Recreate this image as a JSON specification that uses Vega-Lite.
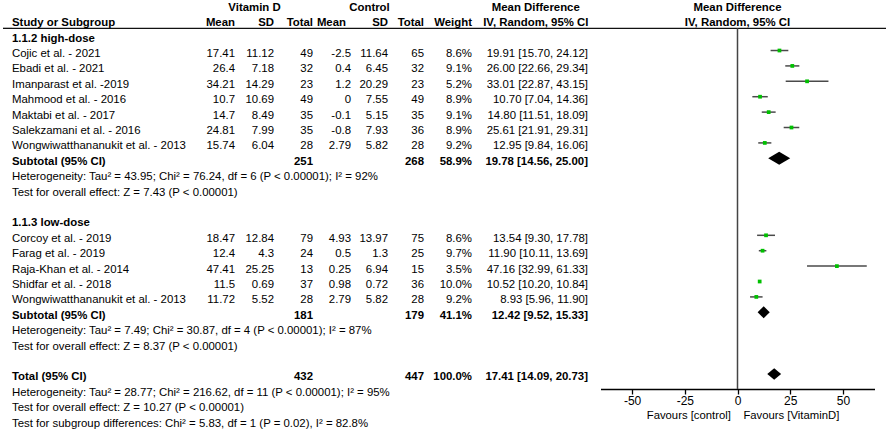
{
  "$schema": "https://vega.github.io/schema/vega-lite/v6.json",
  "padding": {"left": 2, "right": 0, "top": 0, "bottom": 0},
  "spacing": 0,
  "bounds": "flush",
  "config": {
    "view": {"stroke": null},
    "font": "Liberation Sans",
    "text": {"fontSize": 11.4, "color": "#000", "baseline": "middle", "dy": 3.5}
  },
  "data": {"values": [
    {"r": 0, "k": "h0", "s1": "Vitamin D", "s2": "Control", "ci": "Mean Difference", "pl": "Mean Difference"},
    {"r": 1, "k": "h1", "study": "Study or Subgroup", "m1": "Mean", "s1": "SD", "n1": "Total", "m2": "Mean", "s2": "SD", "n2": "Total", "w": "Weight", "ci": "IV, Random, 95% CI", "pl": "IV, Random, 95% CI"},
    {"r": 2, "k": "grp", "study": "1.1.2 high-dose"},
    {"r": 3, "k": "st", "study": "Cojic et al. - 2021", "m1": "17.41", "s1": "11.12", "n1": "49", "m2": "-2.5", "s2": "11.64", "n2": "65", "w": "8.6%", "ci": "19.91 [15.70, 24.12]", "est": 19.91, "lo": 15.70, "hi": 24.12},
    {"r": 4, "k": "st", "study": "Ebadi et al. - 2021", "m1": "26.4", "s1": "7.18", "n1": "32", "m2": "0.4", "s2": "6.45", "n2": "32", "w": "9.1%", "ci": "26.00 [22.66, 29.34]", "est": 26.00, "lo": 22.66, "hi": 29.34},
    {"r": 5, "k": "st", "study": "Imanparast et al. -2019", "m1": "34.21", "s1": "14.29", "n1": "23", "m2": "1.2", "s2": "20.29", "n2": "23", "w": "5.2%", "ci": "33.01 [22.87, 43.15]", "est": 33.01, "lo": 22.87, "hi": 43.15},
    {"r": 6, "k": "st", "study": "Mahmood et al.  - 2016", "m1": "10.7", "s1": "10.69", "n1": "49", "m2": "0", "s2": "7.55", "n2": "49", "w": "8.9%", "ci": "10.70 [7.04, 14.36]", "est": 10.70, "lo": 7.04, "hi": 14.36},
    {"r": 7, "k": "st", "study": "Maktabi et al. - 2017", "m1": "14.7", "s1": "8.49", "n1": "35", "m2": "-0.1", "s2": "5.15", "n2": "35", "w": "9.1%", "ci": "14.80 [11.51, 18.09]", "est": 14.80, "lo": 11.51, "hi": 18.09},
    {"r": 8, "k": "st", "study": "Salekzamani et al. - 2016", "m1": "24.81", "s1": "7.99", "n1": "35", "m2": "-0.8", "s2": "7.93", "n2": "36", "w": "8.9%", "ci": "25.61 [21.91, 29.31]", "est": 25.61, "lo": 21.91, "hi": 29.31},
    {"r": 9, "k": "st", "study": "Wongwiwatthananukit et al. - 2013", "m1": "15.74", "s1": "6.04", "n1": "28", "m2": "2.79", "s2": "5.82", "n2": "28", "w": "9.2%", "ci": "12.95 [9.84, 16.06]", "est": 12.95, "lo": 9.84, "hi": 16.06},
    {"r": 10, "k": "sub", "study": "Subtotal (95% CI)", "n1": "251", "n2": "268", "w": "58.9%", "ci": "19.78 [14.56, 25.00]", "est": 19.78, "lo": 14.56, "hi": 25.00},
    {"r": 11, "k": "note", "study": "Heterogeneity: Tau² = 43.95; Chi² = 76.24, df = 6 (P < 0.00001); I² = 92%"},
    {"r": 12, "k": "note", "study": "Test for overall effect: Z = 7.43 (P < 0.00001)"},
    {"r": 14, "k": "grp", "study": "1.1.3 low-dose"},
    {"r": 15, "k": "st", "study": "Corcoy et al. - 2019", "m1": "18.47", "s1": "12.84", "n1": "79", "m2": "4.93", "s2": "13.97", "n2": "75", "w": "8.6%", "ci": "13.54 [9.30, 17.78]", "est": 13.54, "lo": 9.30, "hi": 17.78},
    {"r": 16, "k": "st", "study": "Farag et al. - 2019", "m1": "12.4", "s1": "4.3", "n1": "24", "m2": "0.5", "s2": "1.3", "n2": "25", "w": "9.7%", "ci": "11.90 [10.11, 13.69]", "est": 11.90, "lo": 10.11, "hi": 13.69},
    {"r": 17, "k": "st", "study": "Raja-Khan et al. - 2014", "m1": "47.41", "s1": "25.25", "n1": "13", "m2": "0.25", "s2": "6.94", "n2": "15", "w": "3.5%", "ci": "47.16 [32.99, 61.33]", "est": 47.16, "lo": 32.99, "hi": 61.33},
    {"r": 18, "k": "st", "study": "Shidfar et al. - 2018", "m1": "11.5", "s1": "0.69", "n1": "37", "m2": "0.98", "s2": "0.72", "n2": "36", "w": "10.0%", "ci": "10.52 [10.20, 10.84]", "est": 10.52, "lo": 10.20, "hi": 10.84},
    {"r": 19, "k": "st", "study": "Wongwiwatthananukit et al. - 2013", "m1": "11.72", "s1": "5.52", "n1": "28", "m2": "2.79", "s2": "5.82", "n2": "28", "w": "9.2%", "ci": "8.93 [5.96, 11.90]", "est": 8.93, "lo": 5.96, "hi": 11.90},
    {"r": 20, "k": "sub", "study": "Subtotal (95% CI)", "n1": "181", "n2": "179", "w": "41.1%", "ci": "12.42 [9.52, 15.33]", "est": 12.42, "lo": 9.52, "hi": 15.33},
    {"r": 21, "k": "note", "study": "Heterogeneity: Tau² = 7.49; Chi² = 30.87, df = 4 (P < 0.00001); I² = 87%"},
    {"r": 22, "k": "note", "study": "Test for overall effect: Z = 8.37 (P < 0.00001)"},
    {"r": 24, "k": "tot", "study": "Total (95% CI)", "n1": "432", "n2": "447", "w": "100.0%", "ci": "17.41 [14.09, 20.73]", "est": 17.41, "lo": 14.09, "hi": 20.73},
    {"r": 25, "k": "note", "study": "Heterogeneity: Tau² = 28.77; Chi² = 216.62, df = 11 (P < 0.00001); I² = 95%"},
    {"r": 26, "k": "note", "study": "Test for overall effect: Z = 10.27 (P < 0.00001)"},
    {"r": 27, "k": "note", "study": "Test for subgroup differences: Chi² = 5.83, df = 1 (P = 0.02), I² = 82.8%"}
  ]},
  "hconcat": [
    {
      "width": 9, "height": 389,
      "layer": [
        {"transform": [{"filter": "datum.r == 1"}], "mark": {"type": "rule", "color": "#111", "strokeWidth": 1.3}, "encoding": {"y": {"datum": 1.56, "type": "quantitative", "scale": {"domain": [-0.28, 24.98], "reverse": true, "nice": false, "zero": false}, "axis": null}}}
      ]
    },
    {
      "width": 183, "height": 389,
      "layer": [
        {"transform": [{"filter": "datum.r == 1"}], "mark": {"type": "rule", "color": "#111", "strokeWidth": 1.3}, "encoding": {"y": {"datum": 1.56, "type": "quantitative", "scale": {"domain": [-0.28, 24.98], "reverse": true, "nice": false, "zero": false}, "axis": null}}},
        {"transform": [{"filter": "(datum.k == 'st' || datum.k == 'note') && isValid(datum.study)"}], "mark": {"type": "text", "align": "left"},
         "encoding": {"x": {"datum": 0, "type": "quantitative", "scale": {"domain": [0, 1]}, "axis": null}, "y": {"field": "r", "type": "quantitative", "scale": {"domain": [-0.28, 24.98], "reverse": true, "nice": false, "zero": false}, "axis": null}, "text": {"field": "study"}}},
        {"transform": [{"filter": "datum.k != 'st' && datum.k != 'note' && isValid(datum.study)"}], "mark": {"type": "text", "align": "left", "fontWeight": "bold"},
         "encoding": {"x": {"datum": 0, "type": "quantitative", "scale": {"domain": [0, 1]}, "axis": null}, "y": {"field": "r", "type": "quantitative", "scale": {"domain": [-0.28, 24.98], "reverse": true, "nice": false, "zero": false}, "axis": null}, "text": {"field": "study"}}}
      ]
    },
    {
      "width": 40, "height": 389,
      "layer": [
        {"transform": [{"filter": "datum.r == 1"}], "mark": {"type": "rule", "color": "#111", "strokeWidth": 1.3}, "encoding": {"y": {"datum": 1.56, "type": "quantitative", "scale": {"domain": [-0.28, 24.98], "reverse": true, "nice": false, "zero": false}, "axis": null}}},
        {"transform": [{"filter": "datum.k == 'st' && isValid(datum.m1)"}], "mark": {"type": "text", "align": "right"},
         "encoding": {"x": {"datum": 1, "type": "quantitative", "scale": {"domain": [0, 1]}, "axis": null}, "y": {"field": "r", "type": "quantitative", "scale": {"domain": [-0.28, 24.98], "reverse": true, "nice": false, "zero": false}, "axis": null}, "text": {"field": "m1"}}},
        {"transform": [{"filter": "datum.k != 'st' && datum.k != 'h0' && isValid(datum.m1)"}], "mark": {"type": "text", "align": "right", "fontWeight": "bold"},
         "encoding": {"x": {"datum": 1, "type": "quantitative", "scale": {"domain": [0, 1]}, "axis": null}, "y": {"field": "r", "type": "quantitative", "scale": {"domain": [-0.28, 24.98], "reverse": true, "nice": false, "zero": false}, "axis": null}, "text": {"field": "m1"}}}
      ]
    },
    {
      "width": 39, "height": 389,
      "layer": [
        {"transform": [{"filter": "datum.r == 1"}], "mark": {"type": "rule", "color": "#111", "strokeWidth": 1.3}, "encoding": {"y": {"datum": 1.56, "type": "quantitative", "scale": {"domain": [-0.28, 24.98], "reverse": true, "nice": false, "zero": false}, "axis": null}}},
        {"transform": [{"filter": "datum.k == 'st' && isValid(datum.s1)"}], "mark": {"type": "text", "align": "right"},
         "encoding": {"x": {"datum": 1, "type": "quantitative", "scale": {"domain": [0, 1]}, "axis": null}, "y": {"field": "r", "type": "quantitative", "scale": {"domain": [-0.28, 24.98], "reverse": true, "nice": false, "zero": false}, "axis": null}, "text": {"field": "s1"}}},
        {"transform": [{"filter": "datum.k != 'st' && datum.k != 'h0' && isValid(datum.s1)"}], "mark": {"type": "text", "align": "right", "fontWeight": "bold"},
         "encoding": {"x": {"datum": 1, "type": "quantitative", "scale": {"domain": [0, 1]}, "axis": null}, "y": {"field": "r", "type": "quantitative", "scale": {"domain": [-0.28, 24.98], "reverse": true, "nice": false, "zero": false}, "axis": null}, "text": {"field": "s1"}}},
        {"transform": [{"filter": "datum.k == 'h0' && isValid(datum.s1)"}], "mark": {"type": "text", "align": "center", "fontWeight": "bold"},
         "encoding": {"x": {"datum": 0.5, "type": "quantitative", "scale": {"domain": [0, 1]}, "axis": null}, "y": {"field": "r", "type": "quantitative", "scale": {"domain": [-0.28, 24.98], "reverse": true, "nice": false, "zero": false}, "axis": null}, "text": {"field": "s1"}}}
      ]
    },
    {
      "width": 39, "height": 389,
      "layer": [
        {"transform": [{"filter": "datum.r == 1"}], "mark": {"type": "rule", "color": "#111", "strokeWidth": 1.3}, "encoding": {"y": {"datum": 1.56, "type": "quantitative", "scale": {"domain": [-0.28, 24.98], "reverse": true, "nice": false, "zero": false}, "axis": null}}},
        {"transform": [{"filter": "datum.k == 'st' && isValid(datum.n1)"}], "mark": {"type": "text", "align": "right"},
         "encoding": {"x": {"datum": 1, "type": "quantitative", "scale": {"domain": [0, 1]}, "axis": null}, "y": {"field": "r", "type": "quantitative", "scale": {"domain": [-0.28, 24.98], "reverse": true, "nice": false, "zero": false}, "axis": null}, "text": {"field": "n1"}}},
        {"transform": [{"filter": "datum.k != 'st' && datum.k != 'h0' && isValid(datum.n1)"}], "mark": {"type": "text", "align": "right", "fontWeight": "bold"},
         "encoding": {"x": {"datum": 1, "type": "quantitative", "scale": {"domain": [0, 1]}, "axis": null}, "y": {"field": "r", "type": "quantitative", "scale": {"domain": [-0.28, 24.98], "reverse": true, "nice": false, "zero": false}, "axis": null}, "text": {"field": "n1"}}}
      ]
    },
    {
      "width": 38, "height": 389,
      "layer": [
        {"transform": [{"filter": "datum.r == 1"}], "mark": {"type": "rule", "color": "#111", "strokeWidth": 1.3}, "encoding": {"y": {"datum": 1.56, "type": "quantitative", "scale": {"domain": [-0.28, 24.98], "reverse": true, "nice": false, "zero": false}, "axis": null}}},
        {"transform": [{"filter": "datum.k == 'st' && isValid(datum.m2)"}], "mark": {"type": "text", "align": "right"},
         "encoding": {"x": {"datum": 1, "type": "quantitative", "scale": {"domain": [0, 1]}, "axis": null}, "y": {"field": "r", "type": "quantitative", "scale": {"domain": [-0.28, 24.98], "reverse": true, "nice": false, "zero": false}, "axis": null}, "text": {"field": "m2"}}},
        {"transform": [{"filter": "datum.k != 'st' && datum.k != 'h0' && isValid(datum.m2)"}], "mark": {"type": "text", "align": "right", "fontWeight": "bold", "dx": -5},
         "encoding": {"x": {"datum": 1, "type": "quantitative", "scale": {"domain": [0, 1]}, "axis": null}, "y": {"field": "r", "type": "quantitative", "scale": {"domain": [-0.28, 24.98], "reverse": true, "nice": false, "zero": false}, "axis": null}, "text": {"field": "m2"}}}
      ]
    },
    {
      "width": 37, "height": 389,
      "layer": [
        {"transform": [{"filter": "datum.r == 1"}], "mark": {"type": "rule", "color": "#111", "strokeWidth": 1.3}, "encoding": {"y": {"datum": 1.56, "type": "quantitative", "scale": {"domain": [-0.28, 24.98], "reverse": true, "nice": false, "zero": false}, "axis": null}}},
        {"transform": [{"filter": "datum.k == 'st' && isValid(datum.s2)"}], "mark": {"type": "text", "align": "right"},
         "encoding": {"x": {"datum": 1, "type": "quantitative", "scale": {"domain": [0, 1]}, "axis": null}, "y": {"field": "r", "type": "quantitative", "scale": {"domain": [-0.28, 24.98], "reverse": true, "nice": false, "zero": false}, "axis": null}, "text": {"field": "s2"}}},
        {"transform": [{"filter": "datum.k != 'st' && datum.k != 'h0' && isValid(datum.s2)"}], "mark": {"type": "text", "align": "right", "fontWeight": "bold"},
         "encoding": {"x": {"datum": 1, "type": "quantitative", "scale": {"domain": [0, 1]}, "axis": null}, "y": {"field": "r", "type": "quantitative", "scale": {"domain": [-0.28, 24.98], "reverse": true, "nice": false, "zero": false}, "axis": null}, "text": {"field": "s2"}}},
        {"transform": [{"filter": "datum.k == 'h0' && isValid(datum.s2)"}], "mark": {"type": "text", "align": "center", "fontWeight": "bold"},
         "encoding": {"x": {"datum": 0.5, "type": "quantitative", "scale": {"domain": [0, 1]}, "axis": null}, "y": {"field": "r", "type": "quantitative", "scale": {"domain": [-0.28, 24.98], "reverse": true, "nice": false, "zero": false}, "axis": null}, "text": {"field": "s2"}}}
      ]
    },
    {
      "width": 36, "height": 389,
      "layer": [
        {"transform": [{"filter": "datum.r == 1"}], "mark": {"type": "rule", "color": "#111", "strokeWidth": 1.3}, "encoding": {"y": {"datum": 1.56, "type": "quantitative", "scale": {"domain": [-0.28, 24.98], "reverse": true, "nice": false, "zero": false}, "axis": null}}},
        {"transform": [{"filter": "datum.k == 'st' && isValid(datum.n2)"}], "mark": {"type": "text", "align": "right"},
         "encoding": {"x": {"datum": 1, "type": "quantitative", "scale": {"domain": [0, 1]}, "axis": null}, "y": {"field": "r", "type": "quantitative", "scale": {"domain": [-0.28, 24.98], "reverse": true, "nice": false, "zero": false}, "axis": null}, "text": {"field": "n2"}}},
        {"transform": [{"filter": "datum.k != 'st' && datum.k != 'h0' && isValid(datum.n2)"}], "mark": {"type": "text", "align": "right", "fontWeight": "bold"},
         "encoding": {"x": {"datum": 1, "type": "quantitative", "scale": {"domain": [0, 1]}, "axis": null}, "y": {"field": "r", "type": "quantitative", "scale": {"domain": [-0.28, 24.98], "reverse": true, "nice": false, "zero": false}, "axis": null}, "text": {"field": "n2"}}}
      ]
    },
    {
      "width": 48, "height": 389,
      "layer": [
        {"transform": [{"filter": "datum.r == 1"}], "mark": {"type": "rule", "color": "#111", "strokeWidth": 1.3}, "encoding": {"y": {"datum": 1.56, "type": "quantitative", "scale": {"domain": [-0.28, 24.98], "reverse": true, "nice": false, "zero": false}, "axis": null}}},
        {"transform": [{"filter": "datum.k == 'st' && isValid(datum.w)"}], "mark": {"type": "text", "align": "right"},
         "encoding": {"x": {"datum": 1, "type": "quantitative", "scale": {"domain": [0, 1]}, "axis": null}, "y": {"field": "r", "type": "quantitative", "scale": {"domain": [-0.28, 24.98], "reverse": true, "nice": false, "zero": false}, "axis": null}, "text": {"field": "w"}}},
        {"transform": [{"filter": "datum.k != 'st' && datum.k != 'h0' && isValid(datum.w)"}], "mark": {"type": "text", "align": "right", "fontWeight": "bold"},
         "encoding": {"x": {"datum": 1, "type": "quantitative", "scale": {"domain": [0, 1]}, "axis": null}, "y": {"field": "r", "type": "quantitative", "scale": {"domain": [-0.28, 24.98], "reverse": true, "nice": false, "zero": false}, "axis": null}, "text": {"field": "w"}}}
      ]
    },
    {
      "width": 116, "height": 389,
      "layer": [
        {"transform": [{"filter": "datum.r == 1"}], "mark": {"type": "rule", "color": "#111", "strokeWidth": 1.3}, "encoding": {"y": {"datum": 1.56, "type": "quantitative", "scale": {"domain": [-0.28, 24.98], "reverse": true, "nice": false, "zero": false}, "axis": null}}},
        {"transform": [{"filter": "datum.k == 'st' && isValid(datum.ci)"}], "mark": {"type": "text", "align": "right"},
         "encoding": {"x": {"datum": 1, "type": "quantitative", "scale": {"domain": [0, 1]}, "axis": null}, "y": {"field": "r", "type": "quantitative", "scale": {"domain": [-0.28, 24.98], "reverse": true, "nice": false, "zero": false}, "axis": null}, "text": {"field": "ci"}}},
        {"transform": [{"filter": "(datum.k == 'sub' || datum.k == 'tot') && isValid(datum.ci)"}], "mark": {"type": "text", "align": "right", "fontWeight": "bold"},
         "encoding": {"x": {"datum": 1, "type": "quantitative", "scale": {"domain": [0, 1]}, "axis": null}, "y": {"field": "r", "type": "quantitative", "scale": {"domain": [-0.28, 24.98], "reverse": true, "nice": false, "zero": false}, "axis": null}, "text": {"field": "ci"}}},
        {"transform": [{"filter": "(datum.k == 'h0' || datum.k == 'h1') && isValid(datum.ci)"}], "mark": {"type": "text", "align": "center", "fontWeight": "bold"},
         "encoding": {"x": {"datum": 0.55, "type": "quantitative", "scale": {"domain": [0, 1]}, "axis": null}, "y": {"field": "r", "type": "quantitative", "scale": {"domain": [-0.28, 24.98], "reverse": true, "nice": false, "zero": false}, "axis": null}, "text": {"field": "ci"}}}
      ]
    },
    {
      "width": 299, "height": 389,
      "layer": [
        {"transform": [{"filter": "datum.r == 1"}], "mark": {"type": "rule", "color": "#111", "strokeWidth": 1.3}, "encoding": {"y": {"datum": 1.56, "type": "quantitative", "scale": {"domain": [-0.28, 24.98], "reverse": true, "nice": false, "zero": false}, "axis": null}}},
        {"transform": [{"filter": "datum.r == 1"}], "mark": {"type": "rule", "color": "#444", "strokeWidth": 1.5},
         "encoding": {
           "x": {"datum": 0, "type": "quantitative", "scale": {"domain": [-65, 65], "range": [12.5, 286.5], "nice": false, "zero": false},
                 "axis": {"values": [-50, -25, 0, 25, 50], "labelExpr": "'' + datum.value", "title": "Favours [control] \u00a0\u00a0 Favours [VitaminD]", "titleFontSize": 11.3, "titleFontWeight": "normal", "titleColor": "#000", "titleX": 154.5, "titleY": 20, "titleBaseline": "top", "labelFontSize": 12, "labelColor": "#000", "labelPadding": 1, "tickSize": 5, "tickColor": "#000", "tickWidth": 1.3, "domainColor": "#000", "domainWidth": 1.6, "grid": false, "labelFlush": false, "labelOverlap": false}},
           "y": {"datum": 1.56, "type": "quantitative", "scale": {"domain": [-0.28, 24.98], "reverse": true, "nice": false, "zero": false}, "axis": null},
           "y2": {"datum": 24.98}
         }},
        {"transform": [{"filter": "datum.k == 'st'"}], "mark": {"type": "rule", "color": "#4a4a4a", "strokeWidth": 1.5},
         "encoding": {
           "x": {"field": "lo", "type": "quantitative", "scale": {"domain": [-65, 65], "range": [12.5, 286.5], "nice": false, "zero": false},
                 "axis": {"values": [-50, -25, 0, 25, 50], "labelExpr": "'' + datum.value", "title": "Favours [control] \u00a0\u00a0 Favours [VitaminD]", "titleFontSize": 11.3, "titleFontWeight": "normal", "titleColor": "#000", "titleX": 154.5, "titleY": 20, "titleBaseline": "top", "labelFontSize": 12, "labelColor": "#000", "labelPadding": 1, "tickSize": 5, "tickColor": "#000", "tickWidth": 1.3, "domainColor": "#000", "domainWidth": 1.6, "grid": false, "labelFlush": false, "labelOverlap": false}},
           "x2": {"field": "hi"},
           "y": {"field": "r", "type": "quantitative", "scale": {"domain": [-0.28, 24.98], "reverse": true, "nice": false, "zero": false}, "axis": null}
         }},
        {"transform": [{"filter": "datum.k == 'st'"}], "mark": {"type": "point", "shape": "square", "filled": true, "size": 14, "color": "#00c000", "opacity": 1},
         "encoding": {
           "x": {"field": "est", "type": "quantitative", "scale": {"domain": [-65, 65], "range": [12.5, 286.5], "nice": false, "zero": false},
                 "axis": {"values": [-50, -25, 0, 25, 50], "labelExpr": "'' + datum.value", "title": "Favours [control] \u00a0\u00a0 Favours [VitaminD]", "titleFontSize": 11.3, "titleFontWeight": "normal", "titleColor": "#000", "titleX": 154.5, "titleY": 20, "titleBaseline": "top", "labelFontSize": 12, "labelColor": "#000", "labelPadding": 1, "tickSize": 5, "tickColor": "#000", "tickWidth": 1.3, "domainColor": "#000", "domainWidth": 1.6, "grid": false, "labelFlush": false, "labelOverlap": false}},
           "y": {"field": "r", "type": "quantitative", "scale": {"domain": [-0.28, 24.98], "reverse": true, "nice": false, "zero": false}, "axis": null}
         }},
        {"transform": [{"filter": "datum.k == 'sub' || datum.k == 'tot'"}], "mark": {"type": "point", "filled": true, "size": 484, "color": "#000", "opacity": 1},
         "encoding": {
           "x": {"field": "est", "type": "quantitative", "scale": {"domain": [-65, 65], "range": [12.5, 286.5], "nice": false, "zero": false},
                 "axis": {"values": [-50, -25, 0, 25, 50], "labelExpr": "'' + datum.value", "title": "Favours [control] \u00a0\u00a0 Favours [VitaminD]", "titleFontSize": 11.3, "titleFontWeight": "normal", "titleColor": "#000", "titleX": 154.5, "titleY": 20, "titleBaseline": "top", "labelFontSize": 12, "labelColor": "#000", "labelPadding": 1, "tickSize": 5, "tickColor": "#000", "tickWidth": 1.3, "domainColor": "#000", "domainWidth": 1.6, "grid": false, "labelFlush": false, "labelOverlap": false}},
           "y": {"field": "r", "type": "quantitative", "scale": {"domain": [-0.28, 24.98], "reverse": true, "nice": false, "zero": false}, "axis": null},
           "shape": {"field": "r", "type": "nominal", "scale": {"domain": [10, 20, 24], "range": ["M-1,0L0,-0.59L1,0L0,0.59Z", "M-0.55,0L0,-0.55L0.55,0L0,0.55Z", "M-0.63,0L0,-0.52L0.63,0L0,0.52Z"]}, "legend": null}
         }},
        {"transform": [{"filter": "isValid(datum.pl)"}], "mark": {"type": "text", "align": "center", "fontWeight": "bold"},
         "encoding": {
           "x": {"datum": 0, "type": "quantitative", "scale": {"domain": [-65, 65], "range": [12.5, 286.5], "nice": false, "zero": false},
                 "axis": {"values": [-50, -25, 0, 25, 50], "labelExpr": "'' + datum.value", "title": "Favours [control] \u00a0\u00a0 Favours [VitaminD]", "titleFontSize": 11.3, "titleFontWeight": "normal", "titleColor": "#000", "titleX": 154.5, "titleY": 20, "titleBaseline": "top", "labelFontSize": 12, "labelColor": "#000", "labelPadding": 1, "tickSize": 5, "tickColor": "#000", "tickWidth": 1.3, "domainColor": "#000", "domainWidth": 1.6, "grid": false, "labelFlush": false, "labelOverlap": false}},
           "y": {"field": "r", "type": "quantitative", "scale": {"domain": [-0.28, 24.98], "reverse": true, "nice": false, "zero": false}, "axis": null},
           "text": {"field": "pl"}
         }}
      ]
    }
  ]
}
